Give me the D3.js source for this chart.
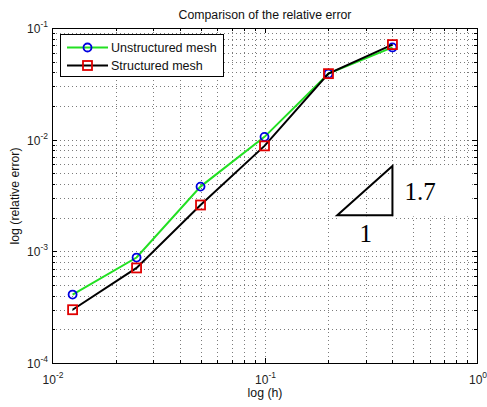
<!DOCTYPE html>
<html><head><meta charset="utf-8">
<script src="https://cdn.jsdelivr.net/npm/d3@7"></script>
<style>body{margin:0;background:#fff}svg{display:block}</style>
</head><body><svg id="chart" width="487" height="407"></svg>
<script>
// Mesh sizes and relative errors for the two mesh types
const meshSize = [0.0125, 0.025, 0.05, 0.1, 0.2, 0.4];
const unstructuredError = [4.1e-4, 8.8e-4, 3.8e-3, 1.06e-2, 3.9e-2, 6.7e-2];
const structuredError = [3.0e-4, 7.1e-4, 2.6e-3, 8.8e-3, 3.9e-2, 7.1e-2];
const seriesNames = ["Unstructured mesh", "Structured mesh"];
const xTickExponents = [-2, -1, 0];
const yTickExponents = [-4, -3, -2, -1];
// Convergence-rate triangle
const slopeValue = 1.7;
const slopeLabel = "1.7";
const runLabel = "1";
const triangleBase = [0.22, 0.4];
const triangleFloor = 2.1e-3;

const svg = d3.select("#chart");
const L = 52, R = 477, T = 28, B = 363;
const x = d3.scaleLog().domain([0.01, 1]).range([L, R]);
const y = d3.scaleLog().domain([1e-4, 1e-1]).range([B, T]);
const font = "'Liberation Sans', Arial, sans-serif";
const serif = "'Liberation Serif', 'Times New Roman', serif";

// Grid lines (major + minor decades), dotted
const minor = (lo, hi) => {
  const out = [];
  for (let e = lo; e < hi; e++) for (let m = 1; m <= 9; m++) out.push(m * Math.pow(10, e));
  return out;
};
const xGrid = minor(-2, 0).filter(v => v > 0.01 * 1.0001);
const yGrid = minor(-4, -1).filter(v => v > 1e-4 * 1.0001);
const grid = svg.append("g").attr("stroke", "#444").attr("stroke-width", 1)
  .attr("stroke-dasharray", "1,3").attr("opacity", 0.7);
grid.selectAll(".gx").data(xGrid).join("line")
  .attr("x1", d => Math.round(x(d)) + 0.5).attr("x2", d => Math.round(x(d)) + 0.5)
  .attr("y1", T).attr("y2", B);
grid.selectAll(".gy").data(yGrid).join("line")
  .attr("y1", d => Math.round(y(d)) + 0.5).attr("y2", d => Math.round(y(d)) + 0.5)
  .attr("x1", L).attr("x2", R);

// White boxes behind the triangle labels
const bx0 = x(triangleBase[0]), bx1 = x(triangleBase[1]);
const by0 = y(triangleFloor);
const topVal = triangleFloor * Math.pow(triangleBase[1] / triangleBase[0], slopeValue);
const by1 = y(topVal);
svg.append("rect").attr("x", bx1 + 1).attr("y", by1 + 1).attr("width", 470 - bx1).attr("height", by0 - by1)
  .attr("fill", "#fff");
svg.append("rect").attr("x", bx0 + 2).attr("y", by0 + 1).attr("width", bx1 - bx0).attr("height", 33)
  .attr("fill", "#fff");

// Ticks on all four sides, inward
const ticks = svg.append("g").attr("stroke", "#000").attr("stroke-width", 1);
const isMajor = v => Math.abs(Math.log10(v) - Math.round(Math.log10(v))) < 1e-6;
xGrid.concat([0.01, 1]).forEach(v => {
  const len = isMajor(v) ? 5 : 3, px = Math.round(x(v)) + 0.5;
  ticks.append("line").attr("x1", px).attr("x2", px).attr("y1", B).attr("y2", B - len);
  ticks.append("line").attr("x1", px).attr("x2", px).attr("y1", T).attr("y2", T + len);
});
yGrid.concat([1e-4, 1e-1]).forEach(v => {
  const len = isMajor(v) ? 5 : 3, py = Math.round(y(v)) + 0.5;
  ticks.append("line").attr("y1", py).attr("y2", py).attr("x1", L).attr("x2", L + len);
  ticks.append("line").attr("y1", py).attr("y2", py).attr("x1", R).attr("x2", R - len);
});

// Axes frame
svg.append("rect").attr("x", L + 0.5).attr("y", T + 0.5).attr("width", R - L).attr("height", B - T)
  .attr("fill", "none").attr("stroke", "#000").attr("stroke-width", 1);

// Tick labels: 10 with superscript exponent
const tickLabel = (sel, e) => {
  sel.append("tspan").text("10");
  sel.append("tspan").attr("dy", -6).attr("font-size", 8.5).text(e);
};
xTickExponents.forEach(e => {
  const t = svg.append("text").attr("x", x(Math.pow(10, e)) + 1).attr("y", 384)
    .attr("text-anchor", "middle").attr("font-family", font).attr("font-size", 12).attr("fill", "#222");
  tickLabel(t, e);
});
yTickExponents.forEach(e => {
  const t = svg.append("text").attr("x", 48).attr("y", y(Math.pow(10, e)) + 5)
    .attr("text-anchor", "end").attr("font-family", font).attr("font-size", 12).attr("fill", "#222");
  tickLabel(t, e);
});

// Title and axis labels
svg.append("text").attr("x", 265).attr("y", 18.5).attr("text-anchor", "middle")
  .attr("font-family", font).attr("font-size", 12.3).attr("fill", "#111").text("Comparison of the relative error");
svg.append("text").attr("x", 265).attr("y", 397).attr("text-anchor", "middle")
  .attr("font-family", font).attr("font-size", 12.3).attr("fill", "#111").text("log (h)");
svg.append("text").attr("transform", "translate(19,196) rotate(-90)").attr("text-anchor", "middle")
  .attr("font-family", font).attr("font-size", 12.3).attr("fill", "#111").text("log (relative error)");

// Data series
const line = d3.line().x(d => x(d[0])).y(d => y(d[1]));
const uPts = d3.zip(meshSize, unstructuredError);
const sPts = d3.zip(meshSize, structuredError);

svg.append("path").datum(uPts).attr("d", line).attr("fill", "none")
  .attr("stroke", "#22e022").attr("stroke-width", 2);
svg.selectAll(".uMark").data(uPts).join("circle")
  .attr("cx", d => x(d[0])).attr("cy", d => y(d[1])).attr("r", 4)
  .attr("fill", "none").attr("stroke", "#0000e0").attr("stroke-width", 1.8);

svg.append("path").datum(sPts).attr("d", line).attr("fill", "none")
  .attr("stroke", "#000").attr("stroke-width", 2);
svg.selectAll(".sMark").data(sPts).join("rect")
  .attr("x", d => x(d[0]) - 4.5).attr("y", d => y(d[1]) - 4.5).attr("width", 9).attr("height", 9)
  .attr("fill", "none").attr("stroke", "#e00000").attr("stroke-width", 1.8);

// Slope triangle
svg.append("path")
  .attr("d", `M${bx0},${by0}L${bx1},${by0}L${bx1},${by1}Z`)
  .attr("fill", "none").attr("stroke", "#000").attr("stroke-width", 2).attr("stroke-linejoin", "miter");
svg.append("text").attr("x", bx1 + 12).attr("y", (by0 + by1) / 2 + 9)
  .attr("font-family", serif).attr("font-size", 25).text(slopeLabel);
svg.append("text").attr("x", (bx0 + bx1) / 2 + 1).attr("y", by0 + 27).attr("text-anchor", "middle")
  .attr("font-family", serif).attr("font-size", 25).text(runLabel);

// Legend
const lg = svg.append("g");
lg.append("rect").attr("x", 60.5).attr("y", 34.5).attr("width", 163).attr("height", 42)
  .attr("fill", "#fff").attr("stroke", "#000").attr("stroke-width", 1);
const rows = [
  {name: seriesNames[0], color: "#22e022", mark: "circle", mcol: "#0000e0", yy: 47.5},
  {name: seriesNames[1], color: "#000", mark: "square", mcol: "#e00000", yy: 65.5}
];
rows.forEach(r => {
  lg.append("line").attr("x1", 67).attr("x2", 108).attr("y1", r.yy).attr("y2", r.yy)
    .attr("stroke", r.color).attr("stroke-width", 2);
  if (r.mark === "circle") {
    lg.append("circle").attr("cx", 87.5).attr("cy", r.yy).attr("r", 4)
      .attr("fill", "none").attr("stroke", r.mcol).attr("stroke-width", 1.8);
  } else {
    lg.append("rect").attr("x", 83).attr("y", r.yy - 4.5).attr("width", 9).attr("height", 9)
      .attr("fill", "none").attr("stroke", r.mcol).attr("stroke-width", 1.8);
  }
  lg.append("text").attr("x", 111).attr("y", r.yy + 4.5).attr("font-family", font)
    .attr("font-size", 12.5).attr("fill", "#111").text(r.name);
});
</script></body></html>
